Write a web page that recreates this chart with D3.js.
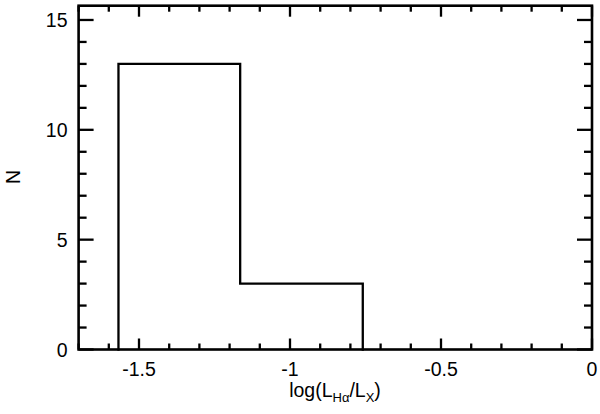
<!DOCTYPE html>
<html><head><meta charset="utf-8">
<script src="https://cdn.jsdelivr.net/npm/d3@7/dist/d3.min.js"></script>
<style>body{margin:0;background:#fff}svg{display:block}text{font-family:"Liberation Sans",Arial,Helvetica,sans-serif;fill:#000}</style>
</head><body><svg id="c" width="600" height="414"></svg>
<script>
const binEdges = [-1.568, -1.165, -0.759];
const counts = [13, 3];
const xTickLabels = ["-1.5", "-1", "-0.5", "0"];
const xTickValues = [-1.5, -1, -0.5, 0];
const yTickLabels = ["0", "5", "10", "15"];
const yTickValues = [0, 5, 10, 15];
const xDomain = [-1.7, 0];
const yDomain = [0, 15.65];

const svg = d3.select("#c");
const L = 78.6, R = 592, T = 5.7, B = 349.5;
const x = d3.scaleLinear().domain(xDomain).range([L, R]);
const y = d3.scaleLinear().domain(yDomain).range([B, T]);

// histogram outline
let pts = [[binEdges[0], 0]];
counts.forEach((c, i) => { pts.push([binEdges[i], c]); pts.push([binEdges[i+1], c]); });
pts.push([binEdges[binEdges.length-1], 0]);
svg.append("path")
  .attr("d", d3.line().x(d => x(d[0])).y(d => y(d[1]))(pts))
  .attr("fill", "none").attr("stroke", "#000").attr("stroke-width", 2.3)
  .attr("stroke-linejoin", "miter").attr("stroke-linecap", "square");

// minor ticks
const xMinor = d3.range(-17, 1).map(v => v / 10);
const yMinor = d3.range(0, 16);
const g = svg.append("g").attr("stroke", "#000").attr("stroke-width", 2.3);
xMinor.forEach(v => {
  const major = Math.abs(v * 2 - Math.round(v * 2)) < 1e-9;
  const len = major ? 11 : 6;
  g.append("line").attr("x1", x(v)).attr("x2", x(v)).attr("y1", B).attr("y2", B - len);
  g.append("line").attr("x1", x(v)).attr("x2", x(v)).attr("y1", T).attr("y2", T + len);
});
yMinor.forEach(v => {
  const len = v % 5 === 0 ? 15 : 8;
  g.append("line").attr("x1", L).attr("x2", L + len).attr("y1", y(v)).attr("y2", y(v));
  g.append("line").attr("x1", R).attr("x2", R - len).attr("y1", y(v)).attr("y2", y(v));
});

// frame
svg.append("rect").attr("x", L).attr("y", T).attr("width", R - L).attr("height", B - T)
  .attr("fill", "none").attr("stroke", "#000").attr("stroke-width", 2.6);

// tick labels
xTickValues.forEach((v, i) => {
  svg.append("text").attr("x", x(v)).attr("y", 376).attr("text-anchor", "middle")
    .attr("font-size", 19.5).text(xTickLabels[i]);
});
yTickValues.forEach((v, i) => {
  svg.append("text").attr("x", 67.5).attr("y", y(v) + 7).attr("text-anchor", "end")
    .attr("font-size", 19.5).text(yTickLabels[i]);
});

// axis titles
svg.append("text").attr("transform", "translate(19.5,177) rotate(-90)")
  .attr("text-anchor", "middle").attr("font-size", 19.5).text("N");

const xt = svg.append("text").attr("x", 335).attr("y", 397).attr("text-anchor", "middle").attr("font-size", 19.5);
xt.append("tspan").text("log(L");
xt.append("tspan").attr("font-size", 13).attr("dy", 5).text("Hα");
xt.append("tspan").attr("dy", -5).text("/L");
xt.append("tspan").attr("font-size", 13).attr("dy", 5).text("X");
xt.append("tspan").attr("dy", -5).text(")");
</script></body></html>
